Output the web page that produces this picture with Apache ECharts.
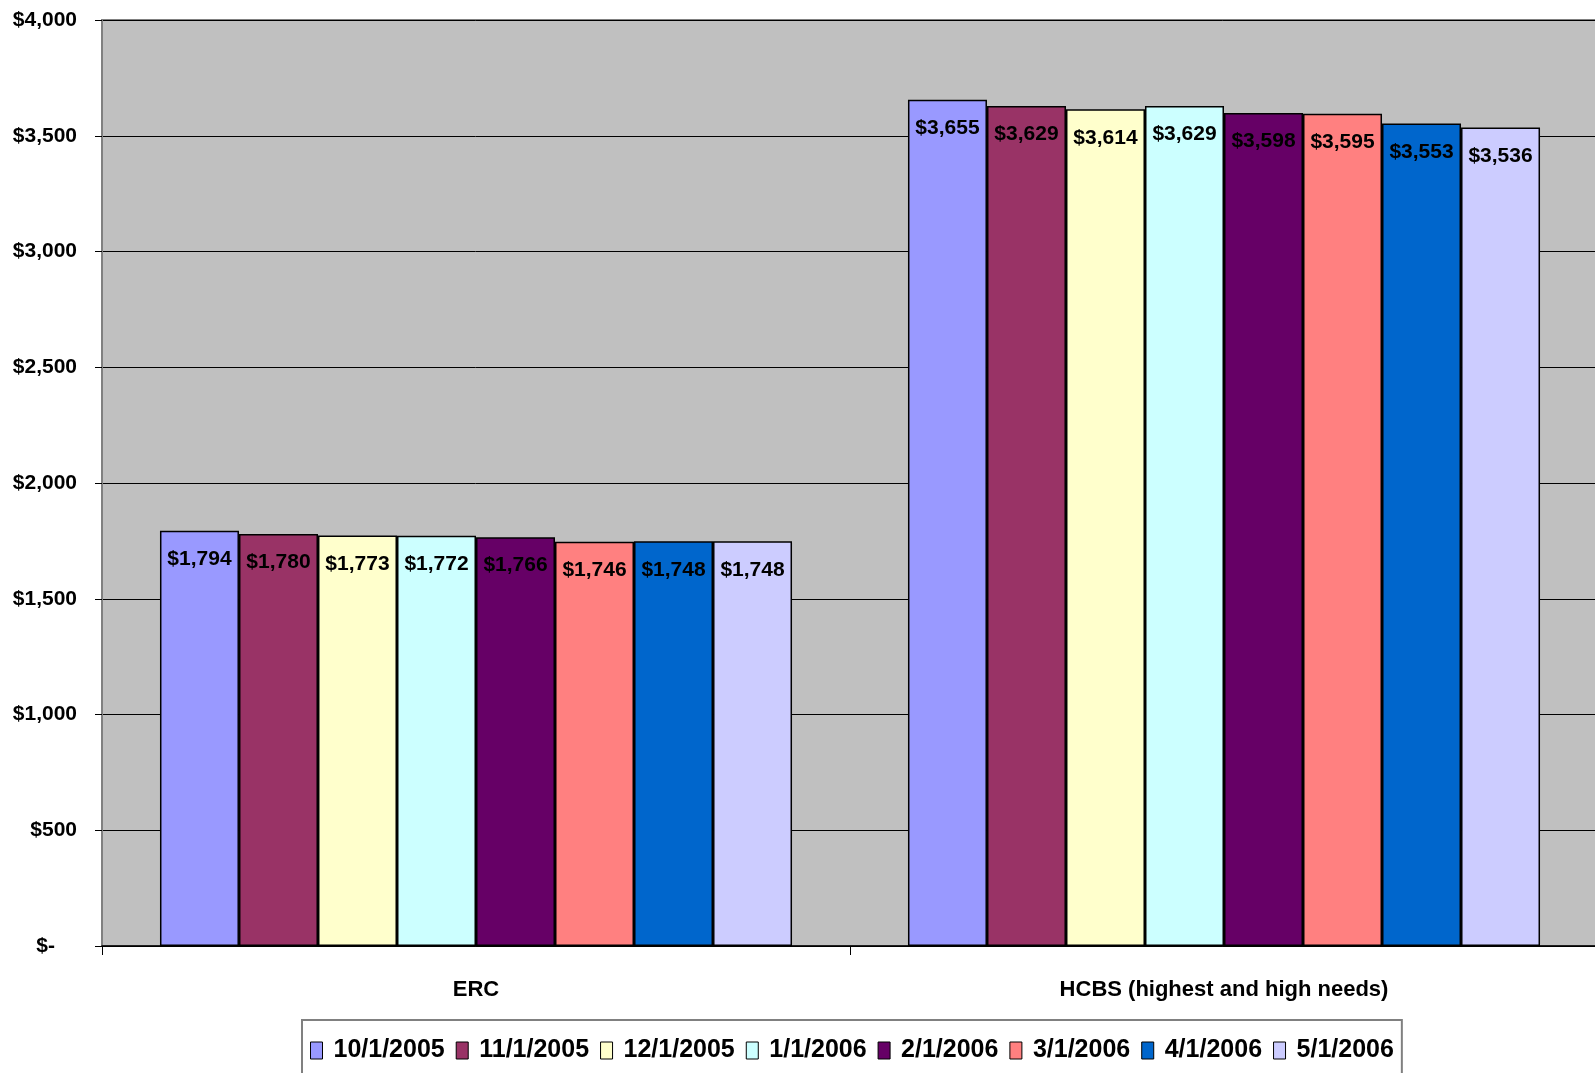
<!DOCTYPE html>
<html>
<head>
<meta charset="utf-8">
<script src="https://cdn.jsdelivr.net/npm/echarts@6/dist/echarts.min.js"></script>
<style>
  html, body { margin: 0; padding: 0; background: #fff; }
  #chart { width: 1595px; height: 1073px; }
</style>
</head>
<body>
<div id="chart"></div>
<script>
const categories = ['ERC', 'HCBS (highest and high needs)']
const dates = ['10/1/2005', '11/1/2005', '12/1/2005', '1/1/2006', '2/1/2006', '3/1/2006', '4/1/2006', '5/1/2006']
const ercValues = [1794, 1780, 1773, 1772, 1766, 1746, 1748, 1748]
const hcbsValues = [3655, 3629, 3614, 3629, 3598, 3595, 3553, 3536]
const colors = ['#9999FF', '#993366', '#FFFFCC', '#CCFFFF', '#660066', '#FF8080', '#0066CC', '#CCCCFF']

const font = '"Liberation Sans", Arial, sans-serif'
const money = v => '$' + v.toLocaleString('en-US')

const chart = echarts.init(document.getElementById('chart'))

const series = dates.map((d, i) => ({
  name: d,
  type: 'bar',
  barGap: 0,
  barCategoryGap: '15.5%',
  data: [ercValues[i], hcbsValues[i]],
  itemStyle: { color: colors[i], borderColor: '#000', borderWidth: 1.5 },
  label: {
    show: true,
    position: 'insideTop',
    distance: 18,
    formatter: p => money(p.value),
    color: '#000',
    fontFamily: font,
    fontWeight: 'bold',
    fontSize: 21
  }
}))

chart.setOption({
  animation: false,
  backgroundColor: '#fff',
  color: colors,
  grid: {
    left: 102, right: -3, top: 20, bottom: 127,
    outerBoundsMode: 'none',
    show: true,
    backgroundColor: '#C0C0C0',
    borderColor: '#808080',
    borderWidth: 2
  },
  legend: {
    left: 302,
    top: 1020,
    padding: [18, 8, 16, 8],
    borderColor: '#808080',
    borderWidth: 2,
    icon: 'rect',
    itemWidth: 12,
    itemHeight: 17,
    itemGap: 11,
    itemStyle: { borderColor: '#000', borderWidth: 1 },
    textStyle: { fontFamily: font, fontWeight: 'bold', fontSize: 25, color: '#000', padding: [0, 0, 0, 6] },
    data: dates
  },
  xAxis: {
    type: 'category',
    data: categories,
    axisLine: { lineStyle: { color: '#000', width: 1.5 } },
    axisTick: { show: true, length: 9, lineStyle: { color: '#000' } },
    axisLabel: { margin: 33, color: '#000', fontFamily: font, fontWeight: 'bold', fontSize: 22 }
  },
  yAxis: {
    type: 'value',
    min: 0,
    max: 4000,
    interval: 500,
    axisLine: { show: true, lineStyle: { color: '#808080', width: 2 } },
    axisTick: { show: true, length: 7, lineStyle: { color: '#000' } },
    splitLine: { lineStyle: { color: '#000', width: 1 } },
    axisLabel: {
      margin: 25,
      color: '#000',
      fontFamily: font,
      fontWeight: 'bold',
      fontSize: 21,
      formatter: v => v === 0 ? '{z|$-}' : money(v),
      rich: { z: { fontFamily: font, fontWeight: 'bold', fontSize: 21, color: '#000', padding: [0, 22, 0, 0] } }
    }
  },
  series: series
})
</script>
</body>
</html>
